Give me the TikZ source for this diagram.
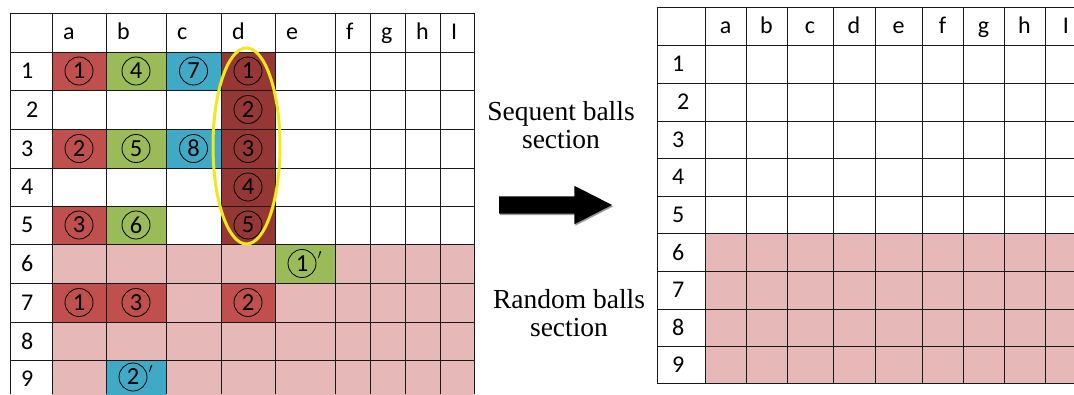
\documentclass[tikz,border=0pt]{standalone}
\usepackage{fontspec}
\setmainfont{Liberation Serif}
\newfontfamily\calib{Carlito}
\usepackage{tikz}
\usetikzlibrary{shapes.geometric,shapes.arrows,shadows}

\definecolor{cellred}{RGB}{192,80,77}
\definecolor{cellgreen}{RGB}{155,187,89}
\definecolor{cellblue}{RGB}{64,170,198}
\definecolor{celldark}{RGB}{149,55,53}
\definecolor{cellpink}{RGB}{230,185,184}
\definecolor{ringyellow}{RGB}{240,232,24}

\begin{document}
\begin{tikzpicture}[
  x=1pt, y=-1pt,
  cellbox/.style={rectangle, inner sep=0pt, outer sep=0pt},
  gridline/.style={black!90, line width=0.9pt, line cap=rect},
  hdr/.style={inner sep=0pt, font=\calib\fontsize{24}{24}\selectfont},
  ball/.style={circle, draw, line width=0.8pt, minimum size=28pt, inner sep=0pt, font=\calib\fontsize{24.5}{24.5}\selectfont},
  tick/.style={inner sep=0pt, font=\fontsize{21}{21}\selectfont},
  ring/.style={ellipse, draw=ringyellow, line width=3pt, inner sep=0pt},
  caption/.style={align=center, inner sep=0pt, font=\fontsize{27.5}{28.5}\selectfont},
  shiftarrow/.style={single arrow, fill=black, inner sep=0pt, inner ysep=8.5pt, minimum height=113pt,
    single arrow head extend=10.5pt, single arrow tip angle=54,
    drop shadow={shadow xshift=1pt, shadow yshift=-1.5pt, fill=black!40, opacity=1}}
]
\useasboundingbox (0,0) rectangle (1074,394);

% cells of both tables
\foreach \c/\xa/\xb in {a/52/106,b/106/166,c/166/221,d/221/275,e/275/335,f/335/370,g/370/405,h/405/440,i/440/474}
  \foreach \r/\ya/\yb in {1/52/90,2/90/129,3/129/168,4/168/206,5/206/244,6/244/283,7/283/322,8/322/360,9/360/398}
    \node[cellbox, minimum width=\xb-\xa, minimum height=\yb-\ya] (L-\c\r) at ({(\xa+\xb)/2},{(\ya+\yb)/2}) {};
\foreach \c/\xa/\xb in {a/705/746,b/746/787,c/787/833,d/833/875,e/875/922,f/922/963,g/963/1004,h/1004/1045,i/1045/1087}
  \foreach \r/\ya/\yb in {1/45/83,2/83/121,3/121/158,4/158/196,5/196/233,6/233/271,7/271/309,8/309/346,9/346/383}
    \node[cellbox, minimum width=\xb-\xa, minimum height=\yb-\ya] (R-\c\r) at ({(\xa+\xb)/2},{(\ya+\yb)/2}) {};

\fill[cellpink] (L-a6.north west) rectangle (L-i9.south east);
\fill[cellpink] (R-a6.north west) rectangle (R-i9.south east);
\foreach \cell/\col in {a1/cellred,b1/cellgreen,c1/cellblue,a3/cellred,b3/cellgreen,c3/cellblue,
    a5/cellred,b5/cellgreen,e6/cellgreen,a7/cellred,b7/cellred,d7/cellred,b9/cellblue,
    d1/celldark,d2/celldark,d3/celldark,d4/celldark,d5/celldark}
  \fill[\col] (L-\cell.north west) rectangle (L-\cell.south east);

\foreach \y in {13,52,90,129,168,206,244,283,322,360}
  \draw[gridline] (10,\y) -- (474,\y);
\foreach \x in {10,52,106,166,221,275,335,370,405,440,474}
  \draw[gridline] (\x,13) -- (\x,394);
\foreach \y in {7,45,83,121,158,196,233,271,309,346,383}
  \draw[gridline] (657,\y) -- (1074,\y);
\foreach \x in {657,705,746,787,833,875,922,963,1004,1045}
  \draw[gridline] (\x,7) -- (\x,383);

% headings
\foreach \c/\t/\xa in {a/a/52,b/b/106,c/c/166,d/d/221,e/e/275,f/f/335,g/g/370,h/h/405,i/I/440}
  \node[hdr, anchor=base west] (Lh-\c) at ({\xa+11},39.5) {\t};
\foreach \c/\t in {a/a,b/b,c/c,d/d,e/e,f/f,g/g,h/h,i/I}
  \node[hdr, anchor=base] (Rh-\c) at (R-\c1.north |- 0,33) {\t};
\foreach \r/\dx in {1/0,2/5,3/0,4/0,5/0,6/0,7/0,8/0,9/0}{
  \node[hdr, anchor=west] (Lr-\r) at ({21+\dx},0 |- L-a\r) {\r};
  \node[hdr, anchor=west] (Rr-\r) at ({672+\dx},0 |- R-a\r) {\r};
}

% balls
\foreach \cell/\n in {a1/1,b1/4,c1/7,d1/1,d2/2,a3/2,b3/5,c3/8,d3/3,d4/4,a5/3,b5/6,d5/5,a7/1,b7/3,d7/2}
  \node[ball] (B-\cell) at (L-\cell) {\n};
\node[ball] (B-e6) at ([xshift=-3pt]L-e6) {1};
\node[tick, anchor=north west] (T-e6) at ([xshift=1pt,yshift=12pt]B-e6.east) {$'$};
\node[ball] (B-b9) at ([xshift=-3pt,yshift=2pt]L-b9) {2};
\node[tick, anchor=north west] (T-b9) at ([xshift=1pt,yshift=12pt]B-b9.east) {$'$};

\node[ring, minimum width=67pt, minimum height=196pt] (seq) at (246.5,146) {};

\node[shiftarrow] (move) at (547,205) {};
\node[caption] (seqtext) at (561,125) {Sequent balls\\section};
\node[caption] (randtext) at (569,313) {Random balls\\section};
\end{tikzpicture}
\end{document}
